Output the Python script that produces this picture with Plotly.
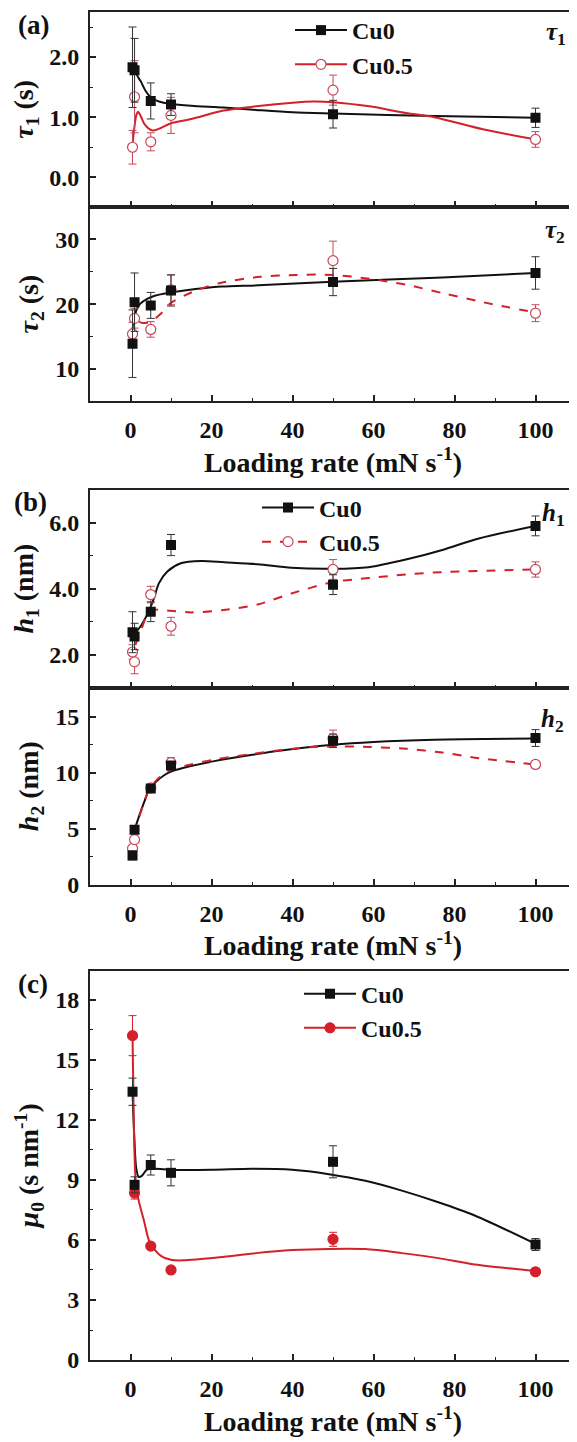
import plotly.graph_objects as go

# ---------------- data ----------------
rate = [0.5, 1, 5, 10, 50, 100]

tau1_cu0 = [1.83, 1.78, 1.27, 1.21, 1.05, 0.99]
tau1_cu0_err = [0.67, 0.53, 0.30, 0.18, 0.23, 0.16]
tau1_cu05 = [0.50, 1.34, 0.59, 1.03, 1.45, 0.63]
tau1_cu05_err = [0.28, 0.60, 0.15, 0.30, 0.25, 0.13]
tau1_fit_cu0_x = [0.5, 1, 2, 2.5, 3.7, 5, 7, 10, 15, 23, 31, 40, 50, 75, 100]
tau1_fit_cu0_y = [1.83, 1.78, 1.65, 1.60, 1.44, 1.33, 1.26, 1.22, 1.19, 1.16, 1.12, 1.08, 1.06, 1.02, 0.99]
tau1_fit_cu05_x = [0.5, 1.0, 1.5, 1.9, 2.5, 3.5, 5.4, 7.5, 10, 15, 23, 31, 40, 45, 50, 59, 68, 75, 87, 100]
tau1_fit_cu05_y = [0.55, 0.85, 1.05, 1.09, 1.02, 0.88, 0.78, 0.82, 0.90, 0.97, 1.11, 1.18, 1.24, 1.26, 1.25, 1.18, 1.07, 1.00, 0.80, 0.63]

tau2_cu0 = [13.9, 20.3, 19.8, 22.1, 23.4, 24.8]
tau2_cu0_err = [5.2, 4.5, 2.0, 2.4, 2.1, 2.5]
tau2_cu05 = [15.4, 17.8, 16.1, 22.2, 26.7, 18.6]
tau2_cu05_err = [1.8, 1.5, 1.2, 2.3, 3.0, 1.3]
tau2_fit_cu0_x = [0.5, 0.9, 1.4, 2.3, 4.1, 6, 10, 13.3, 22.4, 31.6, 50, 77, 100]
tau2_fit_cu0_y = [13.9, 17.0, 19.0, 20.0, 20.8, 21.3, 21.8, 22.1, 22.7, 22.9, 23.45, 24.1, 24.8]
tau2_fit_cu05_x = [0.5, 1, 1.5, 3, 5, 7.8, 10, 13.3, 17, 22.4, 32, 41, 50, 59, 68, 77, 87, 100]
tau2_fit_cu05_y = [15.4, 17.4, 17.4, 17.1, 17.3, 18.7, 20.2, 21.3, 22.3, 23.3, 24.2, 24.5, 24.5, 23.9, 23.0, 21.7, 20.3, 18.7]

h1_cu0 = [2.68, 2.55, 3.30, 5.32, 4.12, 5.90]
h1_cu0_err = [0.62, 0.40, 0.30, 0.32, 0.30, 0.30]
h1_cu05 = [2.08, 1.78, 3.82, 2.86, 4.58, 4.58]
h1_cu05_err = [0.22, 0.36, 0.25, 0.27, 0.30, 0.23]
h1_fit_cu0_x = [0.7, 2.5, 4.5, 5.8, 7.0, 9.1, 12.4, 17.4, 23.2, 31.4, 39.7, 50, 58.8, 68, 77, 86, 100]
h1_fit_cu0_y = [2.60, 2.86, 3.31, 3.71, 4.16, 4.52, 4.77, 4.84, 4.80, 4.74, 4.63, 4.60, 4.65, 4.88, 5.17, 5.52, 5.90]
h1_fit_cu05_x = [1.2, 2.5, 4.1, 5.4, 9.9, 14.9, 23, 31.4, 39.7, 50, 59, 68, 77, 100]
h1_fit_cu05_y = [2.30, 2.70, 3.20, 3.35, 3.33, 3.28, 3.35, 3.52, 3.85, 4.20, 4.32, 4.43, 4.50, 4.58]

h2_cu0 = [2.62, 4.90, 8.60, 10.65, 12.85, 13.10]
h2_cu0_err = [0.40, 0.30, 0.30, 0.30, 0.60, 0.75]
h2_cu05 = [3.24, 4.03, 8.65, 10.90, 13.06, 10.74]
h2_cu05_err = [0.25, 0.20, 0.25, 0.45, 0.75, 0.30]
h2_fit_cu0_x = [1.0, 2.1, 3.3, 4.6, 6.3, 8.4, 10, 12.7, 21, 29.3, 37.7, 50, 60, 75, 100]
h2_fit_cu0_y = [4.90, 6.10, 7.30, 8.50, 9.20, 9.80, 10.10, 10.40, 11.06, 11.56, 12.00, 12.50, 12.75, 12.95, 13.05]
h2_fit_cu05_x = [1.0, 2.1, 3.3, 4.6, 6.3, 8.4, 10, 12.7, 21, 29.3, 37.7, 45, 52, 59, 68, 77, 86, 100]
h2_fit_cu05_y = [4.60, 6.00, 7.30, 8.50, 9.30, 9.95, 10.25, 10.55, 11.20, 11.65, 12.05, 12.30, 12.35, 12.30, 12.15, 11.80, 11.30, 10.74]

mu_cu0 = [13.4, 8.75, 9.74, 9.35, 9.90, 5.77]
mu_cu0_err = [0.68, 0.40, 0.50, 0.65, 0.80, 0.30]
mu_cu05 = [16.2, 8.34, 5.69, 4.50, 6.03, 4.41]
mu_cu05_err = [1.00, 0.30, 0.10, 0.10, 0.35, 0.10]
mu_fit_cu0_x = [0.5, 0.9, 1.4, 2.0, 2.8, 4, 6, 10, 20, 30, 40, 49, 58, 67, 76, 85, 100]
mu_fit_cu0_y = [13.4, 11.3, 9.6, 9.15, 9.2, 9.5, 9.55, 9.5, 9.5, 9.55, 9.5, 9.28, 8.95, 8.46, 7.88, 7.22, 5.80]
mu_fit_cu05_x = [0.5, 0.7, 0.9, 1.2, 1.5, 2.1, 3.4, 4.8, 7.5, 10.2, 13, 22, 31, 40, 49, 58, 67, 76, 85, 100]
mu_fit_cu05_y = [16.2, 13.5, 11.0, 9.2, 8.5, 7.9, 6.9, 5.85, 5.2, 5.0, 4.98, 5.13, 5.34, 5.49, 5.55, 5.54, 5.34, 5.09, 4.77, 4.45]

x_ticks = [0, 20, 40, 60, 80, 100]

# ---------------- styling ----------------
W, H = 577, 1442
OFF = 8  # page body margin compensation
FONT = "Liberation Serif"
BLACK = "#111111"
RED = "#d4202a"
PINK = "#c8485a"
AXC = "#222222"

def px(x):
    return (x - OFF) / W

def py(y):
    return 1 - (y - OFF) / H

def ydom(top, bottom):
    return [py(bottom), py(top)]

xdom = [px(90), px(576)]

fig = go.Figure()

def add_panel(ax, x, y0, e0, y1, e1, fx0, fy0, fx1, fy1, red_dash, filled_red, legend=None):
    xa = "x" if ax == 1 else f"x{ax}"
    ya = "y" if ax == 1 else f"y{ax}"
    rcol = RED if filled_red else PINK
    fig.add_trace(go.Scatter(x=fx0, y=fy0, mode="lines", line=dict(color=BLACK, width=2, shape="spline", smoothing=0.8),
                             xaxis=xa, yaxis=ya, showlegend=False, hoverinfo="skip"))
    fig.add_trace(go.Scatter(x=fx1, y=fy1, mode="lines",
                             line=dict(color=RED, width=2, shape="spline", smoothing=0.8, dash="dash" if red_dash else "solid"),
                             xaxis=xa, yaxis=ya, showlegend=False, hoverinfo="skip"))
    fig.add_trace(go.Scatter(x=x, y=y1, mode="markers",
                             error_y=dict(type="data", array=e1, color=rcol, thickness=1, width=4),
                             marker=dict(symbol="circle", size=10,
                                         color=RED if filled_red else "white",
                                         line=dict(color=rcol, width=1.2)),
                             xaxis=xa, yaxis=ya, showlegend=False))
    fig.add_trace(go.Scatter(x=x, y=y0, mode="markers",
                             error_y=dict(type="data", array=e0, color="#333333", thickness=1, width=4),
                             marker=dict(symbol="square", size=10, color=BLACK),
                             xaxis=xa, yaxis=ya, showlegend=False))
    if legend:
        fig.add_trace(go.Scatter(x=[None], y=[None], mode="lines+markers", name="Cu0",
                                 line=dict(color=BLACK, width=2), marker=dict(symbol="square", size=10, color=BLACK),
                                 xaxis=xa, yaxis=ya, legend=legend))
        fig.add_trace(go.Scatter(x=[None], y=[None], mode="lines+markers", name="Cu0.5",
                                 line=dict(color=RED, width=2, dash="dash" if red_dash else "solid"),
                                 marker=dict(symbol="circle", size=10, color=RED if filled_red else "white",
                                             line=dict(color=rcol, width=1.2)),
                                 xaxis=xa, yaxis=ya, legend=legend))

add_panel(1, rate, tau1_cu0, tau1_cu0_err, tau1_cu05, tau1_cu05_err,
          tau1_fit_cu0_x, tau1_fit_cu0_y, tau1_fit_cu05_x, tau1_fit_cu05_y, False, False, "legend")
add_panel(2, rate, tau2_cu0, tau2_cu0_err, tau2_cu05, tau2_cu05_err,
          tau2_fit_cu0_x, tau2_fit_cu0_y, tau2_fit_cu05_x, tau2_fit_cu05_y, True, False)
add_panel(3, rate, h1_cu0, h1_cu0_err, h1_cu05, h1_cu05_err,
          h1_fit_cu0_x, h1_fit_cu0_y, h1_fit_cu05_x, h1_fit_cu05_y, True, False, "legend2")
add_panel(4, rate, h2_cu0, h2_cu0_err, h2_cu05, h2_cu05_err,
          h2_fit_cu0_x, h2_fit_cu0_y, h2_fit_cu05_x, h2_fit_cu05_y, True, False)
add_panel(5, rate, mu_cu0, mu_cu0_err, mu_cu05, mu_cu05_err,
          mu_fit_cu0_x, mu_fit_cu0_y, mu_fit_cu05_x, mu_fit_cu05_y, False, True, "legend3")

tickfont = dict(family=FONT, size=24, color=BLACK, weight="bold")
titlefont = dict(family=FONT, size=28, color=BLACK, weight="bold")
XTITLE = "Loading rate (mN s<sup>-1</sup>)"

def xaxis(dom_anchor, show_labels, standoff=3):
    d = dict(domain=xdom, anchor=dom_anchor, range=[-10, 110], tickvals=x_ticks,
             showline=True, linecolor=AXC, linewidth=2, mirror=True,
             ticks="inside", ticklen=6, tickwidth=1.5, tickcolor=AXC,
             minor=dict(dtick=10, tick0=0, ticks="inside", ticklen=3, tickwidth=1.2, tickcolor=AXC),
             showgrid=False, zeroline=False, showticklabels=show_labels,
             tickfont=tickfont, ticklabelstandoff=6)
    if show_labels:
        d["title"] = dict(text=XTITLE, font=titlefont, standoff=standoff)
    return d

def yaxis(dom_anchor, dom, rng, dtick, fmt, title):
    return dict(domain=dom, anchor=dom_anchor, range=rng, dtick=dtick, tick0=0, tickformat=fmt,
                showline=True, linecolor=AXC, linewidth=2, mirror=True,
                ticks="inside", ticklen=6, tickwidth=1.5, tickcolor=AXC,
                minor=dict(dtick=dtick / 2, tick0=0, ticks="inside", ticklen=3, tickwidth=1.2, tickcolor=AXC),
                showgrid=False, zeroline=False, tickfont=tickfont, ticklabelstandoff=4,
                title=dict(text=title, font=titlefont, standoff=8))

legfont = dict(family=FONT, size=24, color=BLACK, weight="bold")

fig.update_layout(
    width=W, height=H, margin=dict(l=0, r=0, t=0, b=0),
    paper_bgcolor="white", plot_bgcolor="white",
    xaxis=xaxis("y", False),
    yaxis=yaxis("x", ydom(11, 207.7), [-0.49, 2.75], 1.0, ".1f", "<i>τ</i><sub>1</sub> (s)"),
    xaxis2=xaxis("y2", True, 4),
    yaxis2=yaxis("x2", ydom(207.7, 404.3), [5, 35], 10, "d", "<i>τ</i><sub>2</sub> (s)"),
    xaxis3=xaxis("y3", False),
    yaxis3=yaxis("x3", ydom(493.3, 693.3), [1, 7], 2.0, ".1f", "<i>h</i><sub>1</sub> (nm)"),
    xaxis4=xaxis("y4", True, 3),
    yaxis4=yaxis("x4", ydom(693.3, 892.3), [0, 17.6], 5, "d", "<i>h</i><sub>2</sub> (nm)"),
    xaxis5=xaxis("y5", True, 1),
    yaxis5=yaxis("x5", ydom(979, 1372.3), [0, 19.45], 3, "d", "<i>μ</i><sub>0</sub> (s nm<sup>-1</sup>)"),
    legend=dict(x=px(290), y=py(7), xanchor="left", yanchor="top", bgcolor="rgba(0,0,0,0)",
                font=legfont, tracegroupgap=0, itemwidth=52),
    legend2=dict(x=px(257), y=py(489), xanchor="left", yanchor="top", bgcolor="rgba(0,0,0,0)",
                 font=legfont, tracegroupgap=0, itemwidth=52),
    legend3=dict(x=px(299), y=py(980), xanchor="left", yanchor="top", bgcolor="rgba(0,0,0,0)",
                 font=legfont, tracegroupgap=0, itemwidth=52),
)

def note(text, x, y, size=27, xanchor="center"):
    fig.add_annotation(text=text, x=px(x), y=py(y), xref="paper", yref="paper", showarrow=False,
                       xanchor=xanchor, yanchor="middle",
                       font=dict(family=FONT, size=size, color=BLACK, weight="bold"))

note("(a)", 33, 24)
note("(b)", 30, 506)
note("(c)", 33, 993)
note("<i>τ</i><sub>1</sub>", 556, 33, size=25)
note("<i>τ</i><sub>2</sub>", 555, 233, size=25)
note("<i>h</i><sub>1</sub>", 553, 518, size=25)
note("<i>h</i><sub>2</sub>", 552, 726, size=25)

fig.write_html("out.html")
